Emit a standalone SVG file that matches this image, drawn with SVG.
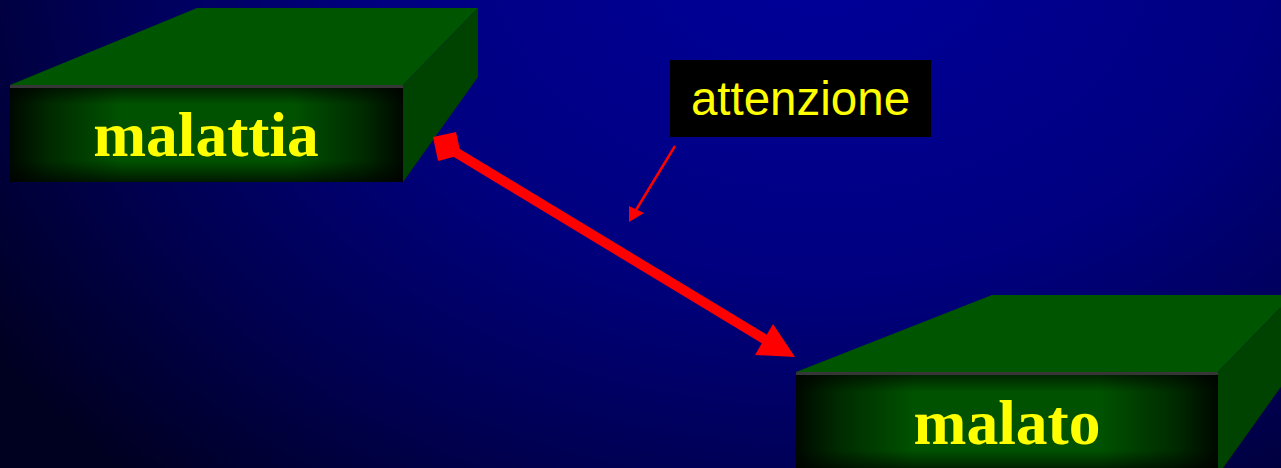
<svg xmlns="http://www.w3.org/2000/svg" width="1281" height="468" viewBox="0 0 1281 468">
<defs>
<radialGradient id="bg" gradientUnits="userSpaceOnUse" cx="820" cy="-60" r="1000" gradientTransform="translate(820 -60) scale(1 0.75) translate(-820 60)">
<stop offset="0" stop-color="#00009c"/>
<stop offset="0.45" stop-color="#000080"/>
<stop offset="0.75" stop-color="#000050"/>
<stop offset="1" stop-color="#000020"/>
</radialGradient>
<linearGradient id="fh" x1="0" y1="0" x2="1" y2="0">
<stop offset="0" stop-color="#000800"/>
<stop offset="0.1" stop-color="#002a00"/>
<stop offset="0.28" stop-color="#005200"/>
<stop offset="0.72" stop-color="#005200"/>
<stop offset="0.9" stop-color="#002a00"/>
<stop offset="1" stop-color="#000800"/>
</linearGradient>
<linearGradient id="fv" x1="0" y1="0" x2="0" y2="1">
<stop offset="0" stop-color="#000" stop-opacity="0.65"/>
<stop offset="0.2" stop-color="#000" stop-opacity="0"/>
<stop offset="0.78" stop-color="#000" stop-opacity="0"/>
<stop offset="1" stop-color="#000" stop-opacity="0.7"/>
</linearGradient>
<style>
.top{fill:#005500}
.side{fill:#004200}
.hl{stroke:#363636;stroke-width:3}
.big{font-family:"Liberation Serif","Times New Roman",serif;font-weight:bold;font-size:63.5px;fill:#ffff00;text-anchor:middle}
.lbl{font-family:"Liberation Sans",Arial,sans-serif;font-size:47.5px;fill:#ffff00;text-anchor:middle}
</style>
</defs>
<rect width="1281" height="468" fill="url(#bg)"/>
<g id="malattia">
<polygon class="top" points="10,85 197,8 478,8 403,85"/>
<polygon class="side" points="403,85 478,8 478,77 403,182"/>
<rect x="10" y="85" width="393" height="97" fill="url(#fh)"/>
<rect x="10" y="85" width="393" height="97" fill="url(#fv)"/>
<line class="hl" x1="10" y1="86.5" x2="403" y2="86.5"/>
<text class="big" x="206" y="156">malattia</text>
</g>
<g id="malato">
<polygon class="top" points="796,372 992,295 1293,295 1218,372"/>
<polygon class="side" points="1218,372 1293,295 1293,370 1218,475"/>
<rect x="796" y="372" width="422" height="100" fill="url(#fh)"/>
<rect x="796" y="372" width="422" height="100" fill="url(#fv)"/>
<line class="hl" x1="796" y1="373.5" x2="1218" y2="373.5"/>
<text class="big" x="1007" y="444">malato</text>
</g>
<g id="attenzione">
<rect x="670" y="60" width="261" height="77" fill="#000"/>
<text class="lbl" x="800.5" y="115">attenzione</text>
</g>
<g id="connectors">
<line x1="447" y1="147" x2="766" y2="340" stroke="#ff0000" stroke-width="10"/>
<polygon points="433,137 456,132 461,155 438,161" fill="#ff0000"/>
<polygon points="773,324 795,357 755,355" fill="#ff0000"/>
<line x1="675" y1="146" x2="636" y2="210" stroke="#ff0000" stroke-width="2.5"/>
<polygon points="629,222 629,206 644,213" fill="#ff0000"/>
</g>
</svg>
